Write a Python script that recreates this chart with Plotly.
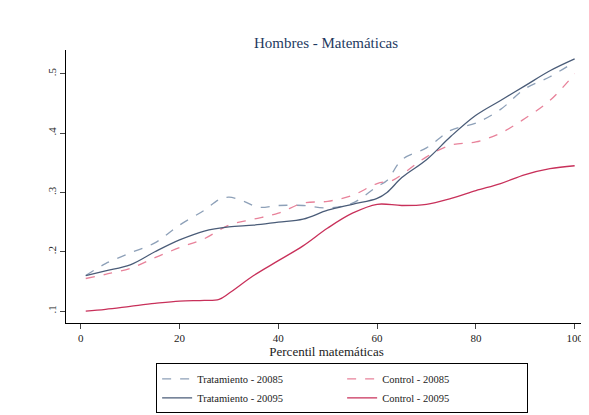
import plotly.graph_objects as go

x_t85 = [1,5,10,15,20,25,28,30,33,36,40,45,50,55,60,62,65,70,75,80,85,90,95,100]
y_t85 = [.16,.18,.198,.215,.245,.27,.288,.292,.285,.275,.278,.278,.274,.282,.31,.32,.355,.375,.405,.417,.44,.475,.495,.52]
x_c85 = [1,5,10,15,20,25,30,35,40,45,50,55,60,63,65,70,75,80,85,90,95,100]
y_c85 = [.155,.162,.172,.19,.207,.222,.245,.255,.265,.282,.285,.295,.315,.32,.33,.36,.38,.385,.4,.425,.455,.5]
x_t95 = [1,5,10,15,20,25,30,35,40,45,50,55,60,62,65,70,75,80,85,90,95,100]
y_t95 = [.16,.168,.178,.2,.22,.235,.242,.245,.25,.255,.27,.28,.29,.3,.325,.355,.395,.43,.455,.48,.505,.525]
x_c95 = [1,5,10,15,20,25,28,30,35,40,45,50,55,60,65,70,75,80,85,90,95,100]
y_c95 = [.1,.103,.108,.113,.117,.118,.12,.13,.16,.185,.21,.24,.265,.28,.278,.28,.29,.303,.315,.33,.34,.345]

fig = go.Figure()
fig.add_trace(go.Scatter(x=x_t85, y=y_t85, mode="lines", name="Tratamiento - 20085",
                         line=dict(color="#8da0b8", dash="dash", width=1.3, shape="spline")))
fig.add_trace(go.Scatter(x=x_c85, y=y_c85, mode="lines", name="Control - 20085",
                         line=dict(color="#e8829a", dash="dash", width=1.3, shape="spline")))
fig.add_trace(go.Scatter(x=x_t95, y=y_t95, mode="lines", name="Tratamiento - 20095",
                         line=dict(color="#4a5c78", width=1.3, shape="spline")))
fig.add_trace(go.Scatter(x=x_c95, y=y_c95, mode="lines", name="Control - 20095",
                         line=dict(color="#c8305a", width=1.3, shape="spline")))

fig.update_layout(
    width=589, height=415, paper_bgcolor="white", plot_bgcolor="white",
    font=dict(family="Liberation Serif", size=11, color="#222"),
    title=dict(text="Hombres - Matemáticas", x=0.54, xanchor="center", y=0.93, font=dict(size=15, color="#1e3a5f")),
    margin=dict(l=58, r=10, t=42, b=90),
    xaxis=dict(range=[-3, 102.5], tickvals=[0,20,40,60,80,100], ticks="outside", showgrid=False,
               showline=True, linecolor="black", title=dict(text="Percentil matemáticas", standoff=0), zeroline=False),
    yaxis=dict(range=[0.08, 0.54], tickvals=[.1,.2,.3,.4,.5], ticktext=[".1",".2",".3",".4",".5"],
               ticks="outside", showgrid=False, showline=True, linecolor="black", tickangle=-90, zeroline=False),
    legend=dict(orientation="h", x=0.53, xanchor="center", y=-0.148, yanchor="top",
                bordercolor="black", borderwidth=1, entrywidth=140, font=dict(size=10.5)),
)
fig.write_html("out.html")
